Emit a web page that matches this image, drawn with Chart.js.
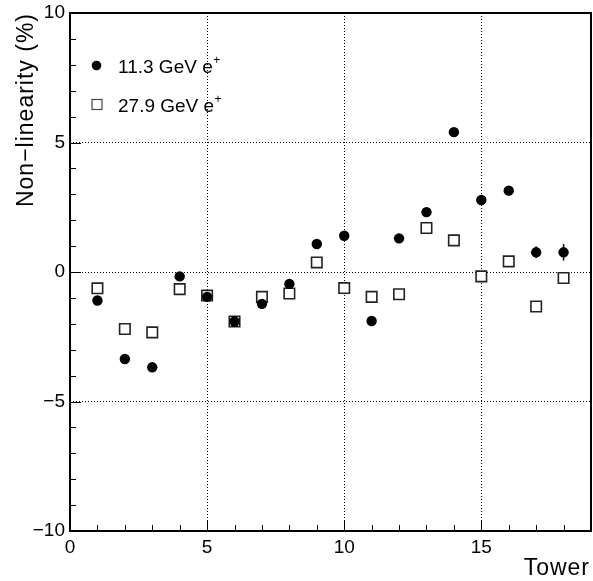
<!DOCTYPE html>
<html><head><meta charset="utf-8">
<script src="https://cdn.jsdelivr.net/npm/chart.js@4/dist/chart.umd.min.js"></script>
<style>html,body{margin:0;padding:0;background:#fff}#wrap{width:593px;height:581px;position:relative}canvas{display:block}</style>
</head><body><div id="wrap"><canvas id="c" width="593" height="581"></canvas></div>
<script>
const towers = [1,2,3,4,5,6,7,8,9,10,11,12,13,14,15,16,17,18];
const nonlin113 = [-1.10,-3.36,-3.68,-0.17,-0.96,-1.91,-1.23,-0.46,1.08,1.40,-1.89,1.30,2.31,5.40,2.78,3.14,0.76,0.76];
const err113    = [0.10,0.10,0.10,0.10,0.10,0.10,0.10,0.10,0.10,0.10,0.10,0.10,0.12,0.12,0.12,0.15,0.22,0.32];
const nonlin279 = [-0.63,-2.20,-2.33,-0.66,-0.91,-1.91,-0.96,-0.83,0.37,-0.62,-0.96,-0.86,1.70,1.22,-0.17,0.41,-1.33,-0.23];
const xTickLabels = {0:'0',5:'5',10:'10',15:'15'};
const yTickLabels = {'-10':'\u221210','-5':'\u22125','0':'0','5':'5','10':'10'};
const seriesLabels = ['11.3 GeV e','27.9 GeV e'];
const xTitle = 'Tower';
const yTitle = 'Non\u2212linearity (%)';
const FONT = '"Liberation Sans", Arial, Helvetica, sans-serif';

const frameAndExtras = {
  id: 'frameAndExtras',
  beforeDatasetsDraw(chart) {
    const ctx = chart.ctx, xs = chart.scales.x, ys = chart.scales.y;
    ctx.save();
    ctx.strokeStyle = '#000'; ctx.lineWidth = 1.5;
    towers.forEach((t, i) => {
      const px = xs.getPixelForValue(t);
      ctx.beginPath();
      ctx.moveTo(px, ys.getPixelForValue(nonlin113[i] - err113[i]));
      ctx.lineTo(px, ys.getPixelForValue(nonlin113[i] + err113[i]));
      ctx.stroke();
    });
    ctx.restore();
  },
  afterDraw(chart) {
    const ctx = chart.ctx, a = chart.chartArea, xs = chart.scales.x, ys = chart.scales.y;
    ctx.save();
    ctx.strokeStyle = '#000'; ctx.lineWidth = 1;
    for (let v = -10; v <= 10; v++) {
      const py = Math.round(ys.getPixelForValue(v)) + 0.5;
      const len = (v % 5 === 0) ? 11 : 6;
      ctx.beginPath(); ctx.moveTo(a.left, py); ctx.lineTo(a.left + len, py); ctx.stroke();
    }
    for (let v = 0; v <= 19; v++) {
      const px = Math.round(xs.getPixelForValue(v)) + 0.5;
      const len = (v % 5 === 0) ? 11 : 6;
      ctx.beginPath(); ctx.moveTo(px, a.bottom); ctx.lineTo(px, a.bottom - len); ctx.stroke();
    }
    ctx.lineWidth = 2;
    ctx.strokeRect(a.left, a.top, a.right - a.left, a.bottom - a.top);
    ctx.fillStyle = '#000';
    ctx.font = '23px ' + FONT;
    try { ctx.letterSpacing = '1px'; } catch(e) {}
    ctx.textAlign = 'right'; ctx.textBaseline = 'alphabetic';
    ctx.fillText(xTitle, 590, 575);
    ctx.save();
    ctx.translate(33, 13);
    ctx.rotate(-Math.PI / 2);
    ctx.textAlign = 'right'; ctx.textBaseline = 'alphabetic';
    ctx.fillText(yTitle, 0, 0);
    ctx.restore();
    try { ctx.letterSpacing = '0px'; } catch(e) {}
    ctx.font = '19px ' + FONT;
    ctx.textAlign = 'left'; ctx.textBaseline = 'alphabetic';
    ctx.beginPath(); ctx.arc(96.5, 65.5, 4.8, 0, Math.PI * 2); ctx.fill();
    ctx.fillText(seriesLabels[0], 118, 72.5);
    let w = ctx.measureText(seriesLabels[0]).width;
    ctx.font = '12px ' + FONT; ctx.fillText('+', 118 + w + 0.5, 64);
    ctx.font = '19px ' + FONT;
    ctx.strokeStyle = '#444'; ctx.lineWidth = 1.2;
    ctx.strokeRect(92, 99.5, 10, 10);
    ctx.fillText(seriesLabels[1], 118, 111.5);
    w = ctx.measureText(seriesLabels[1]).width;
    ctx.font = '12px ' + FONT; ctx.fillText('+', 118 + w + 0.5, 103);
    ctx.restore();
  }
};

const gridColor = (lo, hi) => (c) => {
  const v = c.tick && c.tick.value;
  return (v % 5 === 0 && v > lo && v < hi) ? '#000' : 'rgba(0,0,0,0)';
};

new Chart(document.getElementById('c'), {
  type: 'scatter',
  data: {
    datasets: [
      {
        label: seriesLabels[0],
        data: towers.map((t, i) => ({x: t, y: nonlin113[i]})),
        pointStyle: 'circle', pointRadius: 5.2,
        backgroundColor: '#000', borderColor: '#000', borderWidth: 0
      },
      {
        label: seriesLabels[1],
        data: towers.map((t, i) => ({x: t, y: nonlin279[i]})),
        pointStyle: 'rect', pointRadius: 7.4,
        backgroundColor: '#fff', borderColor: '#222', borderWidth: 1.6
      }
    ]
  },
  options: {
    responsive: false, animation: false, devicePixelRatio: 1,
    layout: {autoPadding: false, padding: {top: 13, right: 2, left: 0, bottom: 0}},
    plugins: {legend: {display: false}, tooltip: {enabled: false}},
    scales: {
      x: {
        type: 'linear', min: 0, max: 19,
        afterFit(s) { s.height = 50; s.paddingLeft = 0; s.paddingRight = 0; },
        ticks: {
          stepSize: 1, autoSkip: false, maxRotation: 0, padding: 5,
          color: '#000', font: {family: FONT, size: 19},
          callback: (v) => (xTickLabels[v] !== undefined ? xTickLabels[v] : '')
        },
        grid: {drawTicks: false, lineWidth: 1, color: gridColor(0, 19)},
        border: {display: false, dash: [1, 2]}
      },
      y: {
        type: 'linear', min: -10, max: 10,
        afterFit(s) { s.width = 70; s.paddingTop = 0; s.paddingBottom = 0; },
        ticks: {
          stepSize: 1, autoSkip: false, padding: 5,
          color: '#000', font: {family: FONT, size: 19},
          callback: (v) => (yTickLabels[String(v)] !== undefined ? yTickLabels[String(v)] : '')
        },
        grid: {drawTicks: false, lineWidth: 1, color: gridColor(-10, 10)},
        border: {display: false, dash: [1, 2]}
      }
    }
  },
  plugins: [frameAndExtras]
});
</script>
</body></html>
